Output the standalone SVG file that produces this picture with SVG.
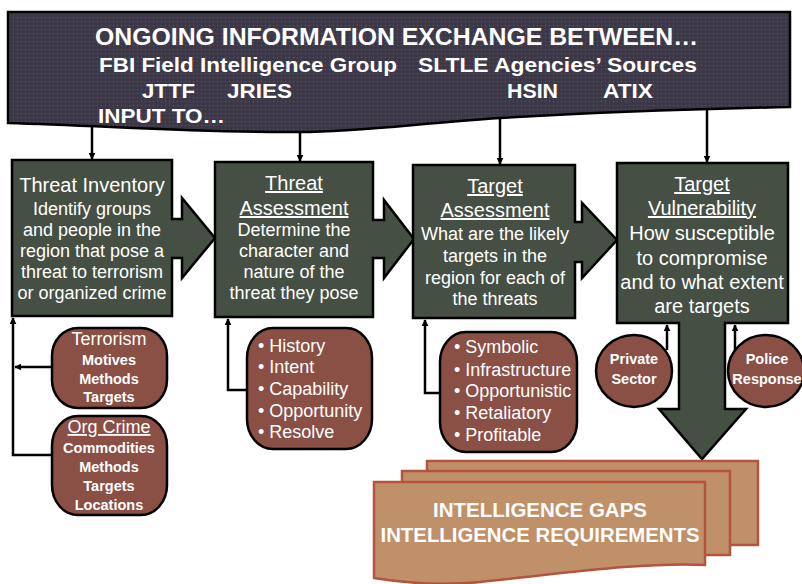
<svg xmlns="http://www.w3.org/2000/svg" width="802" height="584" viewBox="0 0 802 584">
<defs>
<pattern id="dots" width="4" height="4" patternUnits="userSpaceOnUse">
<rect width="4" height="4" fill="#3d3848"/>
<rect x="1" y="1" width="1" height="1" fill="#5d586a"/>
</pattern>
<marker id="ah" viewBox="0 0 10 10" refX="9" refY="5" markerWidth="7" markerHeight="7" markerUnits="userSpaceOnUse" orient="auto">
<path d="M0,0 L10,5 L0,10 Z" fill="#000"/>
</marker>
</defs>
<style>
text{font-family:"Liberation Sans",Arial,sans-serif;fill:#fff}
.ban{font-weight:bold;font-size:21px}
.box{fill:#454f43;stroke:#000;stroke-width:2.5;stroke-linejoin:miter}
.brn{fill:#8a4f45;stroke:#000;stroke-width:2.5}
.doc{fill:#c09069;stroke:#b5533f;stroke-width:2.5}
.ttl{font-size:20px;text-anchor:middle}
.bd{font-size:18px;text-anchor:middle}
.bd4{font-size:20px;text-anchor:middle}
.u{text-decoration:underline}
.sm{font-size:14.5px;font-weight:bold;text-anchor:middle}
.li{font-size:18px}
.con{fill:none;stroke:#000;stroke-width:2.5}
.gap{font-size:20px;font-weight:bold;text-anchor:middle}
</style>

<g id="banner">
<path d="M8,12 H790 V107 C700,109 600,112 500,118 C420,123 360,132 300,132 C200,133 110,126 8,123 Z" fill="url(#dots)" stroke="#000" stroke-width="2.5"/>
<text class="ban" x="95" y="45" font-size="24" textLength="603" lengthAdjust="spacingAndGlyphs" style="font-size:24px">ONGOING INFORMATION EXCHANGE BETWEEN…</text>
<text class="ban" x="99" y="72" textLength="298" lengthAdjust="spacingAndGlyphs">FBI Field Intelligence Group</text>
<text class="ban" x="418" y="72" textLength="279" lengthAdjust="spacingAndGlyphs">SLTLE Agencies’ Sources</text>
<text class="ban" x="142" y="98" textLength="53" lengthAdjust="spacingAndGlyphs">JTTF</text>
<text class="ban" x="227" y="98" textLength="65" lengthAdjust="spacingAndGlyphs">JRIES</text>
<text class="ban" x="507" y="98" textLength="51" lengthAdjust="spacingAndGlyphs">HSIN</text>
<text class="ban" x="603" y="98" textLength="50" lengthAdjust="spacingAndGlyphs">ATIX</text>
<text class="ban" x="98" y="123" textLength="127" lengthAdjust="spacingAndGlyphs">INPUT TO…</text>
</g>

<g id="connectors">
<line class="con" x1="92" y1="127" x2="92" y2="159" stroke-width="2" marker-end="url(#ah)"/>
<line class="con" x1="300" y1="132" x2="300" y2="161" stroke-width="2" marker-end="url(#ah)"/>
<line class="con" x1="500" y1="118" x2="500" y2="164" stroke-width="2" marker-end="url(#ah)"/>
<line class="con" x1="707" y1="108" x2="707" y2="162" stroke-width="2" marker-end="url(#ah)"/>
<path class="con" d="M52,455 H13 V318" marker-end="url(#ah)"/>
<line class="con" x1="52" y1="367" x2="15" y2="367" marker-end="url(#ah)"/>
<path class="con" d="M247,390 H228 V319" marker-end="url(#ah)"/>
<path class="con" d="M440,393 H425 V320" marker-end="url(#ah)"/>
<line class="con" x1="667" y1="350" x2="667" y2="325" marker-end="url(#ah)"/>
<line class="con" x1="735" y1="350" x2="735" y2="325" marker-end="url(#ah)"/>
</g>

<g id="threat-inventory">
<path class="box" d="M12,160 H172 V219 H182 V198 L215,238 L182,278 V258 H172 V316 H12 Z"/>
<text class="ttl" x="92" y="192">Threat Inventory</text>
<text class="bd" x="92" y="215">Identify groups</text>
<text class="bd" x="92" y="236">and people in the</text>
<text class="bd" x="92" y="257">region that pose a</text>
<text class="bd" x="92" y="278">threat to terrorism</text>
<text class="bd" x="92" y="299">or organized crime</text>
</g>

<g id="threat-assessment">
<path class="box" d="M215,162 H373 V220 H384 V200 L414,239 L384,278 V258 H373 V317 H215 Z"/>
<text class="ttl u" x="294" y="190">Threat</text>
<text class="ttl u" x="294" y="215">Assessment</text>
<text class="bd" x="294" y="236">Determine the</text>
<text class="bd" x="294" y="257">character and</text>
<text class="bd" x="294" y="278">nature of the</text>
<text class="bd" x="294" y="299">threat they pose</text>
</g>

<g id="target-assessment">
<path class="box" d="M413,165 H575 V222 H582 V203 L617,240 L582,278 V262 H575 V318 H413 Z"/>
<text class="ttl u" x="495" y="193">Target</text>
<text class="ttl u" x="495" y="217">Assessment</text>
<text class="bd" x="495" y="240">What are the likely</text>
<text class="bd" x="495" y="262">targets in the</text>
<text class="bd" x="495" y="284">region for each of</text>
<text class="bd" x="495" y="305">the threats</text>
</g>

<g id="target-vulnerability">
<path class="box" d="M617,163 H788 V323 H725 V409 H746 L702,459 L659,409 H679 V323 H617 Z"/>
<text class="ttl u" x="702" y="191">Target</text>
<text class="ttl u" x="702" y="215">Vulnerability</text>
<text class="bd4" x="702" y="240">How susceptible</text>
<text class="bd4" x="702" y="265">to compromise</text>
<text class="bd4" x="702" y="289">and to what extent</text>
<text class="bd4" x="702" y="313">are targets</text>
</g>

<g id="terrorism">
<rect class="brn" x="52" y="328" width="115" height="80" rx="26" ry="28"/>
<text x="109" y="345" style="font-size:18px;text-anchor:middle">Terrorism</text>
<text class="sm" x="109" y="365">Motives</text>
<text class="sm" x="109" y="384">Methods</text>
<text class="sm" x="109" y="402">Targets</text>
</g>

<g id="org-crime">
<rect class="brn" x="52" y="416" width="115" height="99" rx="26" ry="30"/>
<text class="u" x="109" y="433" style="font-size:18px;text-anchor:middle">Org Crime</text>
<text class="sm" x="109" y="453">Commodities</text>
<text class="sm" x="109" y="472">Methods</text>
<text class="sm" x="109" y="491">Targets</text>
<text class="sm" x="109" y="510">Locations</text>
</g>

<g id="threat-factors">
<rect class="brn" x="247" y="328" width="125" height="121" rx="26" ry="30"/>
<text class="li" x="258" y="352">• History</text>
<text class="li" x="258" y="373">• Intent</text>
<text class="li" x="258" y="395">• Capability</text>
<text class="li" x="258" y="417">• Opportunity</text>
<text class="li" x="258" y="438">• Resolve</text>
</g>

<g id="target-types">
<rect class="brn" x="440" y="332" width="137" height="120" rx="26" ry="30"/>
<text class="li" x="454" y="353">• Symbolic</text>
<text class="li" x="454" y="376">• Infrastructure</text>
<text class="li" x="454" y="397">• Opportunistic</text>
<text class="li" x="454" y="419">• Retaliatory</text>
<text class="li" x="454" y="441">• Profitable</text>
</g>

<g id="private-sector">
<ellipse class="brn" cx="634" cy="371" rx="38" ry="36"/>
<text class="sm" x="634" y="364">Private</text>
<text class="sm" x="634" y="384">Sector</text>
</g>

<g id="police-response">
<ellipse class="brn" cx="766" cy="371" rx="38" ry="36"/>
<text class="sm" x="767" y="364">Police</text>
<text class="sm" x="767" y="384">Response</text>
</g>

<g id="intelligence-gaps">
<rect class="doc" x="427" y="461" width="331" height="84"/>
<rect class="doc" x="402" y="471" width="328" height="84"/>
<path class="doc" d="M374,482 H705 V565 C640,562 560,574 480,582 C440,586 405,583 374,578 Z"/>
<text class="gap" x="540" y="517" textLength="214" lengthAdjust="spacingAndGlyphs">INTELLIGENCE GAPS</text>
<text class="gap" x="540" y="542" textLength="319" lengthAdjust="spacingAndGlyphs">INTELLIGENCE REQUIREMENTS</text>
</g>
</svg>
